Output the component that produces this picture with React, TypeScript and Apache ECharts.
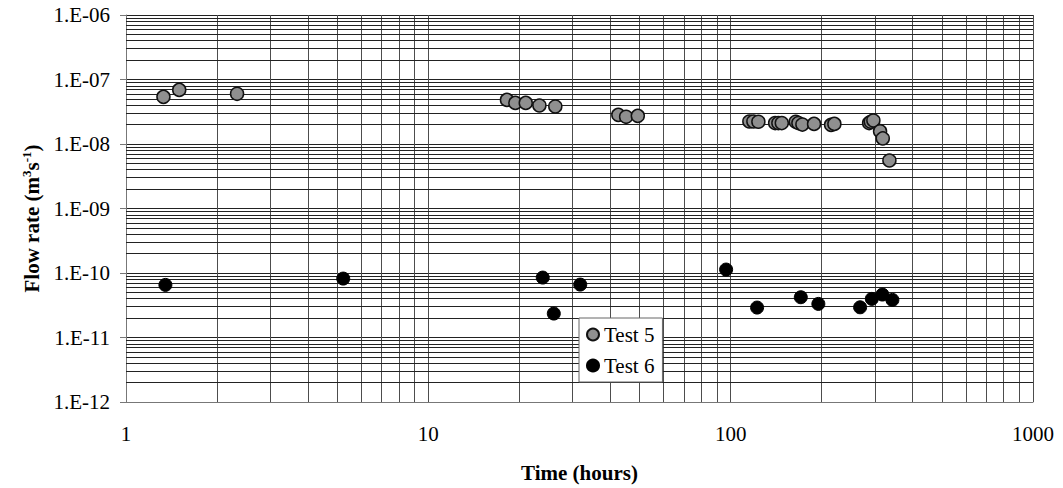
import React, { useEffect, useRef } from "react";
import * as echarts from "echarts";

const test5Time = [1.33, 1.5, 2.33, 18.2, 19.4, 21.0, 23.3, 26.3, 42.5, 45.1, 49.3, 115.3, 118.9, 123.5, 140.3, 143.8, 147.6, 164.2, 167.5, 172.7, 188.7, 214.8, 220.3, 287, 290.7, 296.5, 312.0, 318.5, 335];
const test5Flow = [5.38e-8, 6.9e-8, 6.0e-8, 4.83e-8, 4.34e-8, 4.34e-8, 3.95e-8, 3.81e-8, 2.83e-8, 2.64e-8, 2.73e-8, 2.23e-8, 2.23e-8, 2.21e-8, 2.11e-8, 2.11e-8, 2.11e-8, 2.21e-8, 2.11e-8, 2.0e-8, 2.05e-8, 1.98e-8, 2.05e-8, 2.11e-8, 2.21e-8, 2.31e-8, 1.58e-8, 1.22e-8, 5.55e-9];

const test6Time = [1.35, 5.23, 23.9, 26.0, 31.8, 96.6, 122.3, 170.6, 195, 268, 293, 317.6, 342.7];
const test6Flow = [6.54e-11, 8.19e-11, 8.49e-11, 2.35e-11, 6.61e-11, 1.13e-10, 2.91e-11, 4.21e-11, 3.32e-11, 2.94e-11, 3.97e-11, 4.63e-11, 3.83e-11];

const xDecades = [1, 10, 100];
const yDecades = [1e-12, 1e-11, 1e-10, 1e-9, 1e-8, 1e-7];
const minorSteps = [2, 3, 4, 5, 6, 7, 8, 9];
const X_MIN = 1;
const X_MAX = 1000;
const Y_MIN = 1e-12;
const Y_MAX = 1e-6;

const FONT = "Liberation Serif";

export default function App() {
  const ref = useRef<HTMLDivElement>(null);
  useEffect(() => {
    if (!ref.current) return;
    const chart = echarts.init(ref.current, null, { renderer: "svg" });

    const xMinor: any[] = [];
    xDecades.forEach((d) =>
      minorSteps.forEach((m) => xMinor.push([{ coord: [d * m, Y_MIN] }, { coord: [d * m, Y_MAX] }]))
    );
    const yMinor: any[] = [];
    yDecades.forEach((d) =>
      minorSteps.forEach((m) => yMinor.push([{ coord: [X_MIN, d * m] }, { coord: [X_MAX, d * m] }]))
    );

    const fmtY = (v: number) => {
      const e = Math.round(Math.log10(v));
      return "1.E-" + String(-e).padStart(2, "0");
    };
    const fmtX = (v: number) => String(Math.round(v));

    chart.setOption({
      animation: false,
      textStyle: { fontFamily: FONT },
      grid: { left: 126, right: 30, top: 15, bottom: 85, containLabel: false },
      legend: {
        left: 579,
        top: 318,
        z: 50,
        zlevel: 0,
        orient: "vertical",
        padding: [6, 8, 6, 7],
        itemGap: 10,
        itemWidth: 12,
        itemHeight: 12,
        backgroundColor: "#fff",
        borderColor: "#666",
        borderWidth: 1,
        borderRadius: 0,
        textStyle: { fontSize: 21, fontFamily: FONT, color: "#000" },
        data: ["Test 5", "Test 6"],
      },
      xAxis: {
        type: "log",
        logBase: 10,
        min: X_MIN,
        max: X_MAX,
        name: "Time (hours)",
        nameLocation: "middle",
        nameGap: 60,
        nameTextStyle: { fontSize: 21, fontWeight: "bold", fontFamily: FONT, color: "#000" },
        axisLine: { show: true, lineStyle: { color: "#777", width: 1 } },
        axisTick: { show: false },
        axisLabel: { fontSize: 21, fontFamily: FONT, color: "#000", margin: 21, formatter: fmtX },
        splitLine: { show: true, lineStyle: { color: "#4d4d4d", width: 1 } },
      },
      yAxis: {
        type: "log",
        logBase: 10,
        min: Y_MIN,
        max: Y_MAX,
        splitNumber: 6,
        name: "{a|Flow rate (m}{s|3}{a|s}{s|-1}{a|)}",
        nameLocation: "middle",
        nameGap: 80,
        nameTextStyle: {
          fontSize: 21,
          fontWeight: "bold",
          fontFamily: FONT,
          color: "#000",
          padding: [0, 20, 0, 0],
          rich: {
            a: { fontSize: 21, fontWeight: "bold", fontFamily: FONT, color: "#000", lineHeight: 24 },
            s: { fontSize: 13, fontWeight: "bold", fontFamily: FONT, color: "#000", verticalAlign: "top", lineHeight: 24, padding: [0, 0, 8, 0] },
          },
        },
        axisLine: { show: true, lineStyle: { color: "#777", width: 1 } },
        axisTick: { show: true, inside: false, length: 6, lineStyle: { color: "#777" } },
        axisLabel: { fontSize: 21, fontFamily: FONT, color: "#000", margin: 16, formatter: fmtY },
        splitLine: { show: true, lineStyle: { color: "#222", width: 1 } },
      },
      series: [
        {
          name: "gridlines",
          type: "scatter",
          data: [],
          silent: true,
          z: 1,
          markLine: {
            silent: true,
            symbol: "none",
            z: 1,
            label: { show: false },
            emphasis: { disabled: true },
            lineStyle: { color: "#4d4d4d", width: 1, type: "solid" },
            data: xMinor,
          },
        },
        {
          name: "gridlinesY",
          type: "scatter",
          data: [],
          silent: true,
          z: 1,
          markLine: {
            silent: true,
            symbol: "none",
            z: 1,
            label: { show: false },
            emphasis: { disabled: true },
            lineStyle: { color: "#222", width: 1, type: "solid" },
            data: yMinor,
          },
        },
        {
          name: "Test 5",
          type: "scatter",
          symbol: "circle",
          symbolSize: 13,
          itemStyle: { color: "#8f8f8f", borderColor: "#111", borderWidth: 1.5, opacity: 1 },
          data: test5Time.map((t, i) => [t, test5Flow[i]]),
          z: 5,
        },
        {
          name: "Test 6",
          type: "scatter",
          symbol: "circle",
          symbolSize: 13,
          itemStyle: { color: "#000", borderColor: "#000", borderWidth: 1, opacity: 1 },
          data: test6Time.map((t, i) => [t, test6Flow[i]]),
          z: 5,
        },
      ],
    });
    return () => chart.dispose();
  }, []);
  return (
    <div
      ref={ref}
      style={{ position: "fixed", left: 0, top: 0, width: 1063, height: 488, background: "#fff" }}
    />
  );
}
